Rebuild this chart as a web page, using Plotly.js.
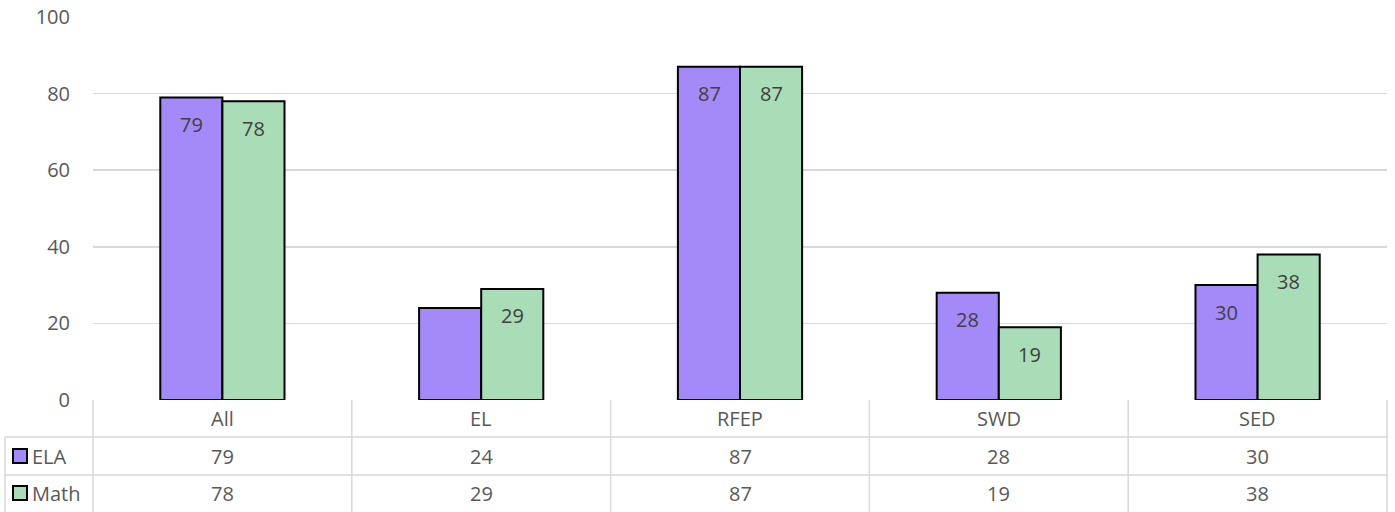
<!DOCTYPE html>
<html>
<head>
<meta charset="utf-8">
<script src="https://cdn.plot.ly/plotly-3.0.1.min.js"></script>
<style>
  html, body { margin: 0; padding: 0; background: #fff; }
  #myDiv { width: 1395px; height: 512px; }
</style>
</head>
<body>
<div id="myDiv"></div>
<script>
var categories = ['All', 'EL', 'RFEP', 'SWD', 'SED'];
var ela = [79, 24, 87, 28, 30];
var math = [78, 29, 87, 19, 38];
// the reference shows no label on the EL / ELA bar
var elaLabels = ['79', '', '87', '28', '30'];
var mathLabels = ['78', '29', '87', '19', '38'];
var seriesNames = ['ELA', 'Math'];
var yTicks = [0, 20, 40, 60, 80, 100];

var W = 1395, H = 512;
var mL = 93, mR = 8, mT = 17, mB = 112;
var plotW = W - mL - mR, plotH = H - mT - mB;
function px(x) { return (x - mL) / plotW; }
function py(y) { return (H - mB - y) / plotH; }

var purple = 'rgb(164,137,248)';
var green = 'rgb(169,221,183)';
var textColor = '#595959';
var gridColor = '#d9d9d9';
var fontFam = 'Open Sans, sans-serif';
var fs = 20;

var trace1 = {
    x: categories,
    y: ela,
    type: 'bar',
    name: seriesNames[0],
    marker: { color: purple, line: { color: 'black', width: 2 } },
    hoverinfo: 'skip'
};
var trace2 = {
    x: categories,
    y: math,
    type: 'bar',
    name: seriesNames[1],
    marker: { color: green, line: { color: 'black', width: 2 } },
    hoverinfo: 'skip'
};

var annotations = [];
var shapes = [];

// bar labels, inside end
for (var i = 0; i < categories.length; i++) {
    if (elaLabels[i] !== '') {
        annotations.push({ x: categories[i], y: ela[i], xref: 'x', yref: 'y', text: elaLabels[i],
            showarrow: false, xshift: -31, yshift: -27, yanchor: 'middle',
            font: { family: fontFam, size: fs, color: '#404040' } });
    }
    if (mathLabels[i] !== '') {
        annotations.push({ x: categories[i], y: math[i], xref: 'x', yref: 'y', text: mathLabels[i],
            showarrow: false, xshift: 31, yshift: -27, yanchor: 'middle',
            font: { family: fontFam, size: fs, color: '#404040' } });
    }
}

// data table
var rowY = [py(418), py(456), py(493)];
for (var i = 0; i < categories.length; i++) {
    annotations.push({ x: categories[i], y: rowY[0], xref: 'x', yref: 'paper', text: categories[i],
        showarrow: false, yanchor: 'middle', font: { family: fontFam, size: fs, color: textColor } });
    annotations.push({ x: categories[i], y: rowY[1], xref: 'x', yref: 'paper', text: String(ela[i]),
        showarrow: false, yanchor: 'middle', font: { family: fontFam, size: fs, color: textColor } });
    annotations.push({ x: categories[i], y: rowY[2], xref: 'x', yref: 'paper', text: String(math[i]),
        showarrow: false, yanchor: 'middle', font: { family: fontFam, size: fs, color: textColor } });
}

// legend keys in the table
var keyColors = [purple, green];
for (var s = 0; s < 2; s++) {
    var cy = s === 0 ? 456 : 493;
    shapes.push({ type: 'rect', xref: 'paper', yref: 'paper',
        x0: px(13), x1: px(27), y0: py(cy - 7), y1: py(cy + 7),
        fillcolor: keyColors[s], line: { color: 'black', width: 2 } });
    annotations.push({ x: px(30), y: rowY[s + 1], xref: 'paper', yref: 'paper', text: seriesNames[s],
        showarrow: false, xanchor: 'left', yanchor: 'middle',
        font: { family: fontFam, size: fs, color: textColor } });
}

var lineStyle = { color: gridColor, width: 1.5 };
var bottom = py(H);
for (var k = 0; k <= categories.length; k++) {
    shapes.push({ type: 'line', xref: 'paper', yref: 'paper',
        x0: k / categories.length, x1: k / categories.length, y0: 0, y1: bottom, line: lineStyle });
}
shapes.push({ type: 'line', xref: 'paper', yref: 'paper', x0: px(5), x1: 1, y0: py(437), y1: py(437), line: lineStyle });
shapes.push({ type: 'line', xref: 'paper', yref: 'paper', x0: px(5), x1: 1, y0: py(475), y1: py(475), line: lineStyle });
shapes.push({ type: 'line', xref: 'paper', yref: 'paper', x0: px(5), x1: px(5), y0: py(437), y1: bottom, line: lineStyle });

var layout = {
    width: W,
    height: H,
    margin: { l: mL, r: mR, t: mT, b: mB, pad: 0 },
    paper_bgcolor: 'white',
    plot_bgcolor: 'white',
    showlegend: false,
    barmode: 'group',
    bargap: 0.52,
    bargroupgap: 0,
    font: { family: fontFam, size: fs, color: textColor },
    xaxis: {
        type: 'category',
        showticklabels: false,
        showgrid: false,
        showline: false,
        zeroline: false,
        ticks: ''
    },
    yaxis: {
        range: [0, 100],
        tickvals: yTicks,
        ticktext: yTicks.map(String),
        showgrid: true,
        gridcolor: gridColor,
        gridwidth: 1.5,
        zeroline: false,
        showline: false,
        ticks: '',
        ticklabelstandoff: 22,
        tickfont: { family: fontFam, size: fs, color: textColor }
    },
    annotations: annotations,
    shapes: shapes
};

Plotly.newPlot('myDiv', [trace1, trace2], layout, { displayModeBar: false, staticPlot: true });
</script>
</body>
</html>
